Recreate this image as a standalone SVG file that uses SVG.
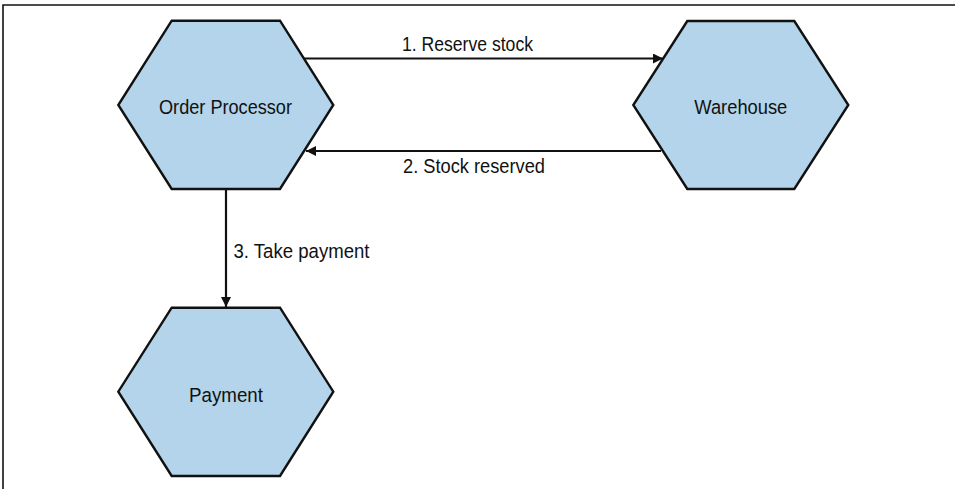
<svg xmlns="http://www.w3.org/2000/svg" width="957" height="489" viewBox="0 0 957 489">
<style>
.hex{fill:#b3d4ea;stroke:#111;stroke-width:2.4;stroke-linejoin:miter}
.t{font-family:"Liberation Sans",Arial,sans-serif;font-size:20.5px;fill:#111}
.c{stroke:#111;stroke-width:2.2;fill:none}
</style>
<defs>
<marker id="ah" viewBox="0 0 10 10" refX="10" refY="5" markerWidth="11" markerHeight="10" markerUnits="userSpaceOnUse" orient="auto">
<path d="M0,0 L10,5 L0,10 Z" fill="#111"/>
</marker>
</defs>
<rect width="957" height="489" fill="#fff"/>
<path d="M3,489 V5 H955" stroke="#111" stroke-width="1.6" fill="none"/>
<g id="connectors">
<line class="c" x1="304" y1="58.5" x2="663" y2="58.5" marker-end="url(#ah)"/>
<text class="t" x="402" y="51" textLength="131" lengthAdjust="spacingAndGlyphs">1. Reserve stock</text>
<line class="c" x1="661" y1="151" x2="306" y2="151" marker-end="url(#ah)"/>
<text class="t" x="403" y="173" textLength="142" lengthAdjust="spacingAndGlyphs">2. Stock reserved</text>
<line class="c" x1="226" y1="189" x2="226" y2="307" marker-end="url(#ah)"/>
<text class="t" x="233.5" y="258" textLength="136" lengthAdjust="spacingAndGlyphs">3. Take payment</text>
</g>
<g id="order-processor">
<polygon class="hex" points="171.7,20.7 280,20.7 333.3,105 280,189 171.7,189 118.3,105"/>
<text class="t" x="159" y="114" textLength="133" lengthAdjust="spacingAndGlyphs">Order Processor</text>
</g>
<g id="warehouse">
<polygon class="hex" points="687.3,21 794.3,21 848.3,105 794.3,189 687.3,189 633.3,105"/>
<text class="t" x="694.3" y="113.5" textLength="93" lengthAdjust="spacingAndGlyphs">Warehouse</text>
</g>
<g id="payment">
<polygon class="hex" points="171.7,307.7 280,307.7 333.3,391.7 280,476 171.7,476 118.3,391.7"/>
<text class="t" x="189" y="401.5" textLength="74" lengthAdjust="spacingAndGlyphs">Payment</text>
</g>
</svg>
